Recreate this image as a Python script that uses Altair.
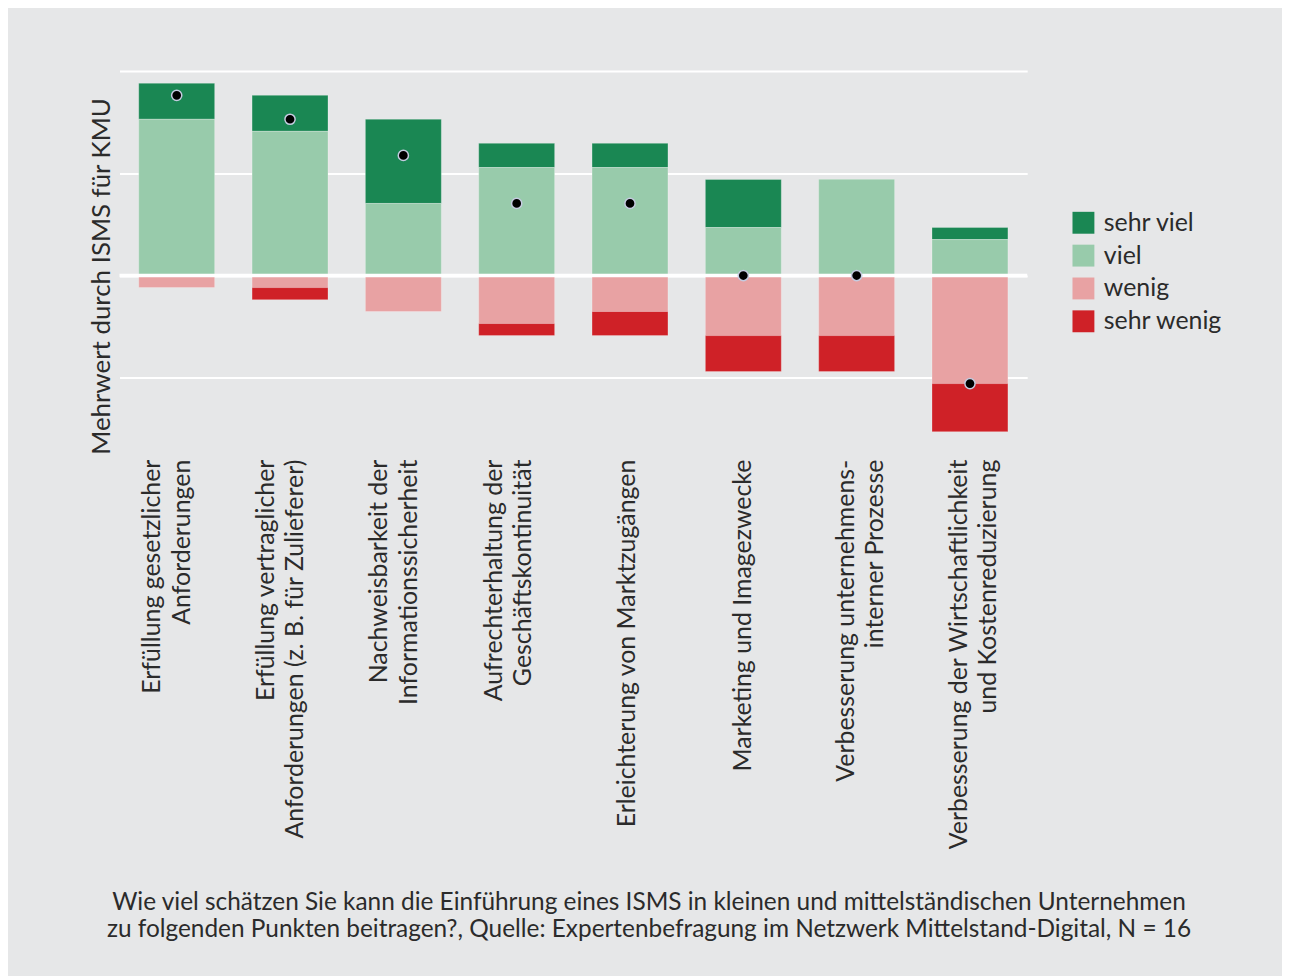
import altair as alt
import pandas as pd

# ---- data (percent of respondents) ----
items = [
    "Erfüllung gesetzlicher|Anforderungen",
    "Erfüllung vertraglicher|Anforderungen (z. B. für Zulieferer)",
    "Nachweisbarkeit der|Informationssicherheit",
    "Aufrechterhaltung der|Geschäftskontinuität",
    "Erleichterung von Marktzugängen",
    "Marketing und Imagezwecke",
    "Verbesserung unternehmens-|interner Prozesse",
    "Verbesserung der Wirtschaftlichkeit|und Kostenreduzierung",
]
categories = ["sehr viel", "viel", "wenig", "sehr wenig"]
colors = ["#1a8753", "#98cbab", "#e8a2a3", "#cf2127"]

sehr_viel = [17.6, 17.6, 41.2, 11.8, 11.8, 23.5, 0.0, 5.9]
viel = [76.5, 70.6, 35.3, 52.9, 52.9, 23.5, 47.1, 17.6]
wenig = [5.9, 5.9, 17.6, 23.5, 17.6, 29.4, 29.4, 52.9]
sehr_wenig = [0.0, 5.9, 0.0, 5.9, 11.8, 17.6, 17.6, 23.5]
score = [88.2, 76.5, 58.8, 35.3, 35.3, 0.0, 0.0, -52.9]

caption = [
    "Wie viel schätzen Sie kann die Einführung eines ISMS in kleinen und mittelständischen Unternehmen",
    "zu folgenden Punkten beitragen?, Quelle: Expertenbefragung im Netzwerk Mittelstand-Digital, N = 16",
]

rows = []
series = {"sehr viel": (sehr_viel, 1, 2), "viel": (viel, 1, 1),
          "wenig": (wenig, -1, 1), "sehr wenig": (sehr_wenig, -1, 2)}
for cat, (vals, sign, ordr) in series.items():
    for it, v in zip(items, vals):
        if v > 0:
            rows.append({"item": it, "cat": cat, "value": sign * v, "ord": ordr})
bars_df = pd.DataFrame(rows)
dots_df = pd.DataFrame({"item": items, "score": score})

FONT = "Lato"
TXT = "#2b2b2b"

x_enc = alt.X(
    "item:N", sort=items,
    scale=alt.Scale(paddingInner=0.33, paddingOuter=0.17),
    axis=alt.Axis(
        title=None, domain=False, ticks=False, labelAngle=-90,
        labelAlign="right", labelBaseline="middle", labelPadding=10,
        labelFontSize=25, labelLineHeight=29.5, labelLimit=0, labelColor=TXT,
        labelFont=FONT, labelExpr="split(datum.label, '|')",
        labelOffset={"expr": "[-24.5, -24.5, -24, -23, -3, 0, -11, -11][round(datum.index * 7)]"},
    ),
)

y_scale = alt.Scale(domain=[-85, 105], nice=False, zero=False)

bars = alt.Chart(bars_df).mark_bar(
    stroke="white", strokeOpacity=0.25, strokeWidth=1
).encode(
    x=x_enc,
    y=alt.Y(
        "value:Q", stack="zero", scale=y_scale,
        axis=alt.Axis(
            values=[-50, 0, 50, 100], labels=False, ticks=False, domain=False,
            grid=True, gridColor="white", gridWidth=2,
            title="Mehrwert durch ISMS für KMU", titleFontSize=26,
            titleFont=FONT, titleFontWeight="normal", titleColor=TXT,
            titleX=-10, titleY=216, titleBaseline="alphabetic",
        ),
    ),
    color=alt.Color(
        "cat:N",
        scale=alt.Scale(domain=categories, range=colors),
        legend=alt.Legend(
            title=None, orient="none", legendX=956, legendY=150,
            symbolType="square", symbolSize=484, symbolStrokeWidth=0,
            symbolOpacity=1, labelFontSize=25, labelFont=FONT,
            labelColor=TXT, labelOffset=8, rowPadding=7, padding=0,
        ),
    ),
    order=alt.Order("ord:Q"),
)

zero_rule = alt.Chart(pd.DataFrame({"z": [0]})).mark_rule(
    color="white", strokeWidth=3.4
).encode(y=alt.Y("z:Q", scale=y_scale))

dots = alt.Chart(dots_df).mark_circle(
    size=105, fill="black", opacity=1, stroke="#c5cbe0", strokeWidth=1.5
).encode(
    x=alt.X("item:N", sort=items),
    y=alt.Y("score:Q", scale=y_scale),
)

chart = alt.layer(bars, zero_rule, dots).properties(
    width=912, height=390,
    autosize=alt.AutoSizeParams(type="none"),
    padding={"left": 112, "top": 51, "right": 256, "bottom": 527},
    title=alt.TitleParams(
        text=caption, orient="bottom", anchor="middle", frame="group",
        fontSize=24.5, lineHeight=26.5, font=FONT, fontWeight="normal",
        color=TXT, offset=42, dx=76,
    ),
).configure(background="#e6e7e8").configure_view(stroke=None)

chart.save("out.html", embed_options={"renderer": "svg", "actions": False})
